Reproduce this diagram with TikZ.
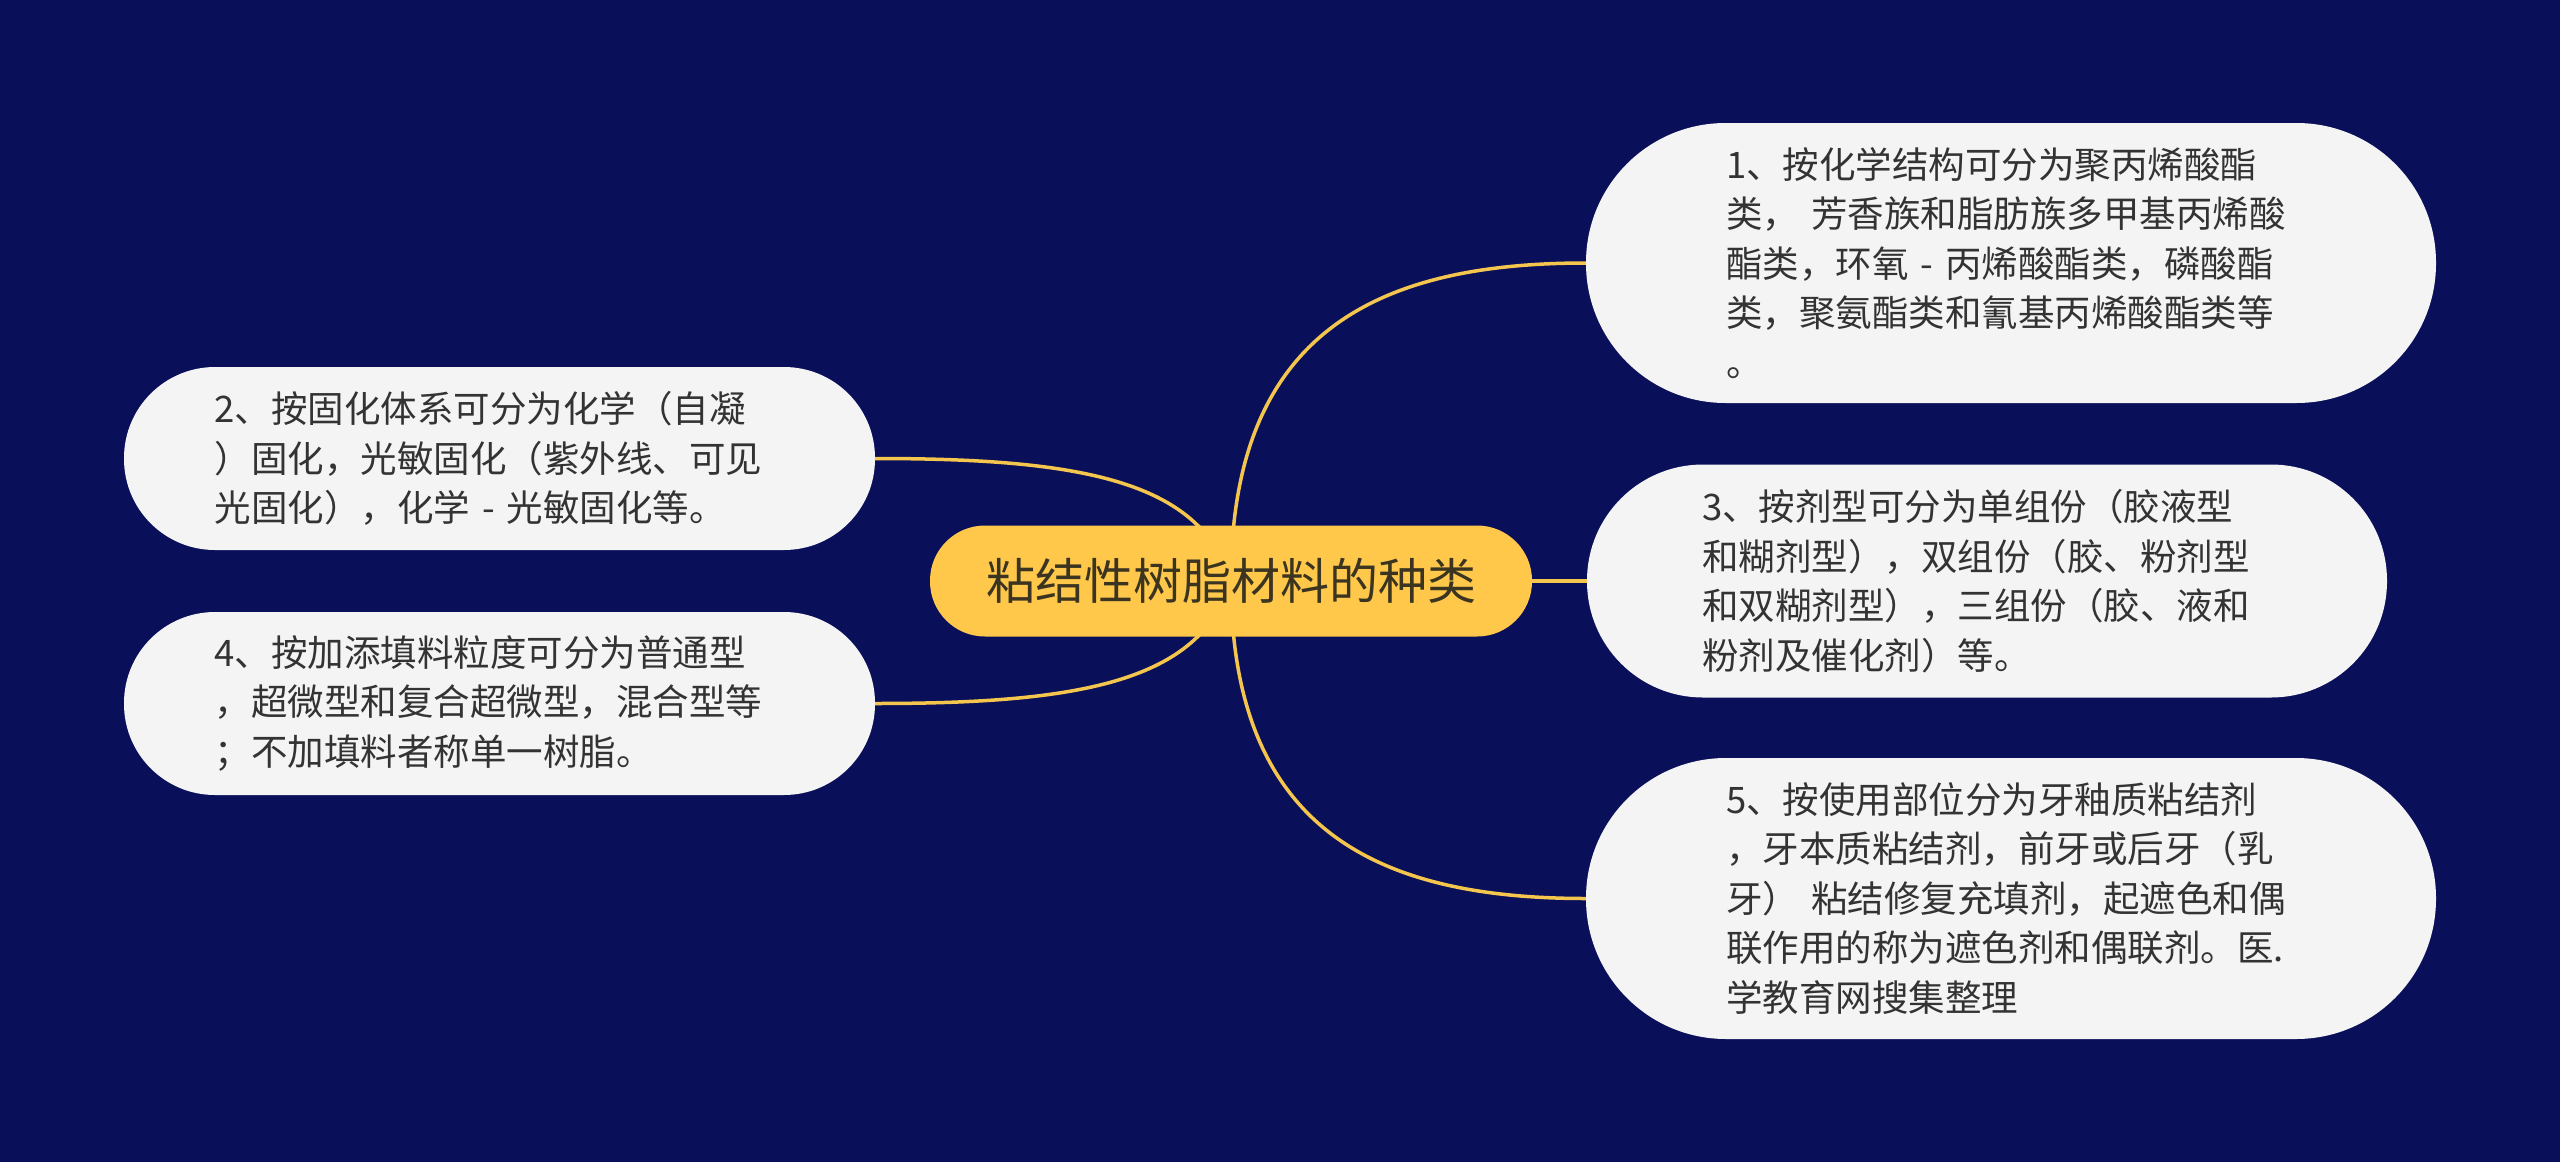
\documentclass[tikz,border=0pt]{standalone}
\usepackage{fontspec}
\setmainfont{Noto Sans CJK SC}
\usetikzlibrary{backgrounds}
\definecolor{bgc}{HTML}{0A0F5A}
\definecolor{yel}{HTML}{FFC84A}
\definecolor{linec}{HTML}{F5C64E}
\definecolor{leaf}{HTML}{F4F4F4}
\definecolor{leaftext}{HTML}{333333}
\definecolor{roottext}{HTML}{3A3420}
\begin{document}
\begin{tikzpicture}[x=1pt,y=-1pt,
  leafbox/.style={fill=leaf, text=leaftext, inner sep=0pt, align=left, text width=570pt,
    font=\fontsize{36.5}{49.5}\selectfont},
  rootbox/.style={fill=yel, text=roottext, inner sep=0pt, minimum width=602pt, minimum height=111pt,
    rounded corners=55pt, font=\fontsize{49}{60}\selectfont},
  conn/.style={draw=linec, line width=3.5pt}]
\useasboundingbox (0,0) rectangle (2560,1162);

\node[rootbox] (root) at (1231,581) {粘结性树脂材料的种类};

\node[leafbox, minimum width=850pt, minimum height=280pt, rounded corners=139.5pt] (n1) at (2011,263)
 {1、按化学结构可分为聚丙烯酸酯\\类， 芳香族和脂肪族多甲基丙烯酸\\酯类，环氧 - 丙烯酸酯类，磷酸酯\\类，聚氨酯类和氰基丙烯酸酯类等\\。};

\node[leafbox, minimum width=800pt, minimum height=233pt, rounded corners=116pt] (n3) at (1987,581)
 {3、按剂型可分为单组份（胶液型\\和糊剂型），双组份（胶、粉剂型\\和双糊剂型），三组份（胶、液和\\粉剂及催化剂）等。};

\node[leafbox, minimum width=850pt, minimum height=281pt, rounded corners=140pt] (n5) at (2011,898.5)
 {5、按使用部位分为牙釉质粘结剂\\，牙本质粘结剂，前牙或后牙（乳\\牙） 粘结修复充填剂，起遮色和偶\\联作用的称为遮色剂和偶联剂。医.\\学教育网搜集整理};

\node[leafbox, minimum width=751pt, minimum height=183pt, rounded corners=91pt] (n2) at (499.5,458.5)
 {2、按固化体系可分为化学（自凝\\）固化，光敏固化（紫外线、可见\\光固化），化学 - 光敏固化等。};

\node[leafbox, minimum width=751pt, minimum height=183pt, rounded corners=91pt] (n4) at (499.5,703.5)
 {4、按加添填料粒度可分为普通型\\，超微型和复合超微型，混合型等\\；不加填料者称单一树脂。};

\begin{pgfonlayer}{background}
\fill[bgc] (0,0) rectangle (2560,1162);
\draw[conn] (root.center) .. controls +(0,-251) and +(-206,0) .. (n1.west);
\draw[conn] (root.center) .. controls +(0,251) and +(-206,0) .. (n5.west);
\draw[conn] (root.east) -- (n3.west);
\draw[conn] (n2.east) .. controls +(204,0) and +(-31,-101) .. (root.center);
\draw[conn] (n4.east) .. controls +(204,0) and +(-31,101) .. (root.center);
\end{pgfonlayer}
\end{tikzpicture}
\end{document}
